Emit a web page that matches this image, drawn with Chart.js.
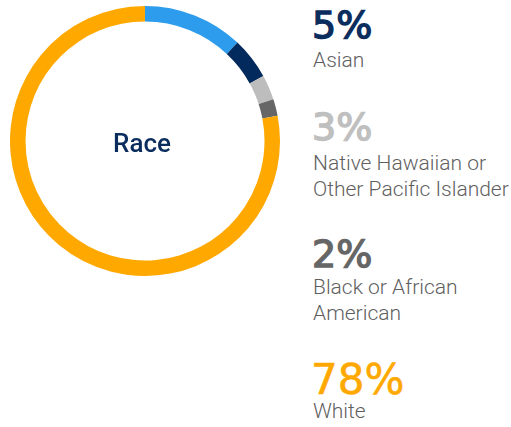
<!DOCTYPE html>
<html>
<head>
<meta charset="utf-8">
<script src="https://cdn.jsdelivr.net/npm/chart.js@4"></script>
<style>
  html, body { margin: 0; padding: 0; background: #fff; }
  body { width: 511px; height: 427px; position: relative; overflow: hidden; font-family: Roboto, "Noto Sans", sans-serif; }
  #wrap { position: absolute; left: 0; top: 0; width: 290px; height: 282px; }
  #centerLabel { position: absolute; left: -3px; top: 2px; width: 290px; height: 282px; display: flex; align-items: center; justify-content: center; font-weight: 500; font-size: 26px; color: #0b2d5e; }
  .pct { position: absolute; left: 312px; font-family: "DejaVu Sans", sans-serif; font-size: 38px; line-height: 38px; font-weight: 400; -webkit-text-stroke: 1.4px currentColor; }
  .pct.big { font-size: 42px; line-height: 42px; left: 311px; -webkit-text-stroke: 0.6px currentColor; }
  .lbl { position: absolute; left: 313px; font-size: 21px; line-height: 26px; font-weight: 300; color: #5f5f5f; }
</style>
</head>
<body>
<div id="wrap"><canvas id="raceChart" width="290" height="282"></canvas></div>
<div id="centerLabel">Race</div>
<div id="legend"></div>
<script>
const categorias = ['Other', 'Asian', 'Native Hawaiian or Other Pacific Islander', 'Black or African American', 'White'];
const porcentajes = [12, 5, 3, 2, 78];
const colores = ['#2e9ced', '#032a5c', '#bdbdbd', '#666666', '#ffa800'];
// legend lines as printed on the right
const etiquetas = [null, ['Asian'], ['Native Hawaiian or', 'Other Pacific Islander'], ['Black or African', 'American'], ['White']];
const colorTexto = [null, '#0b2d5e', '#bfbfbf', '#666666', '#ffa800'];
const topPct = [null, 6, 108, 234.5, 358.5];
const topLbl = [null, 46.5, 150, 274, 398];

let legend = document.getElementById('legend');
for (let i = 0; i < categorias.length; i++) {
    if (!etiquetas[i]) continue;
    let p = document.createElement('div');
    p.className = 'pct' + (porcentajes[i] >= 10 ? ' big' : '');
    p.style.top = topPct[i] + 'px';
    p.style.color = colorTexto[i];
    p.textContent = porcentajes[i] + '%';
    legend.appendChild(p);
    let l = document.createElement('div');
    l.className = 'lbl';
    l.style.top = topLbl[i] + 'px';
    l.innerHTML = etiquetas[i].join('<br>');
    legend.appendChild(l);
}

const ctx = document.getElementById('raceChart').getContext('2d');
const chart = new Chart(ctx, {
    type: 'doughnut',
    data: {
        labels: categorias,
        datasets: [{
            data: porcentajes,
            backgroundColor: colores,
            borderWidth: 0
        }]
    },
    options: {
        responsive: false,
        animation: false,
        cutout: '88.5%',
        layout: { padding: 6 },
        plugins: {
            legend: { display: false },
            tooltip: { enabled: false }
        }
    }
});
</script>
</body>
</html>
